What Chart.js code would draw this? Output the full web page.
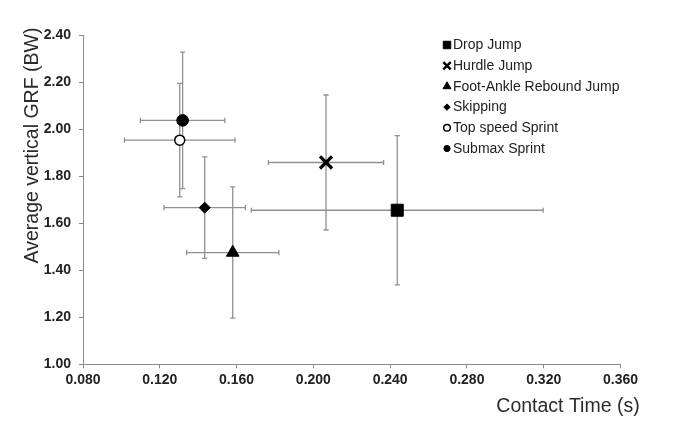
<!DOCTYPE html>
<html><head><meta charset="utf-8">
<script src="https://cdn.jsdelivr.net/npm/chart.js@4.4.1/dist/chart.umd.min.js"></script>
<style>html,body{margin:0;padding:0;background:#fff}canvas{display:block}</style>
</head><body>
<canvas id="c" width="680" height="441"></canvas>
<script>
// ---- data ----
const categories = ['Drop Jump', 'Hurdle Jump', 'Foot-Ankle Rebound Jump', 'Skipping', 'Top speed Sprint', 'Submax Sprint'];
const contactTime = [0.2437, 0.2066, 0.1580, 0.1434, 0.1304, 0.1319];
const contactTimeSD = [0.0760, 0.0300, 0.0240, 0.0212, 0.0288, 0.0220];
const grf = [1.655, 1.858, 1.475, 1.666, 1.953, 2.037];
const grfSD = [0.317, 0.287, 0.279, 0.216, 0.241, 0.290];
const xTicks = [0.080, 0.120, 0.160, 0.200, 0.240, 0.280, 0.320, 0.360];
const yTicks = [1.00, 1.20, 1.40, 1.60, 1.80, 2.00, 2.20, 2.40];
const xTitle = 'Contact Time (s)';
const yTitle = 'Average vertical GRF (BW)';

// ---- styles ----
const markerStyle = [
  {pointStyle: 'rect', r: 8.5, fill: '#000', stroke: '#000', w: 1, lr: 5.3, lw: 1},
  {pointStyle: 'crossRot', r: 8.5, fill: '#000', stroke: '#000', w: 3.2, lr: 5.2, lw: 2.5},
  {pointStyle: 'triangle', r: 7.3, fill: '#000', stroke: '#000', w: 1, lr: 4.6, lw: 1},
  {pointStyle: 'rectRot', r: 5.5, fill: '#000', stroke: '#000', w: 1, lr: 3.2, lw: 1},
  {pointStyle: 'circle', r: 5, fill: '#fff', stroke: '#000', w: 1.5, lr: 3.3, lw: 1.5},
  {pointStyle: 'circle', r: 5.8, fill: '#000', stroke: '#000', w: 1, lr: 3.1, lw: 1}
];
const axisColor = '#8a8a8a';
const errColor = '#909090';
const textColor = '#222';
const fontFam = '"Liberation Sans", Arial, sans-serif';

const datasets = categories.map((name, i) => ({
  label: name,
  data: [{x: contactTime[i], y: grf[i]}],
  pointStyle: markerStyle[i].pointStyle,
  pointRadius: markerStyle[i].r,
  pointBackgroundColor: markerStyle[i].fill,
  pointBorderColor: markerStyle[i].stroke,
  pointBorderWidth: markerStyle[i].w,
  showLine: false
}));

const errorBars = {
  id: 'errorBars',
  beforeDatasetsDraw(chart) {
    const {ctx, scales: {x, y}} = chart;
    const cap = 2.6;
    ctx.save();
    ctx.strokeStyle = errColor;
    ctx.lineWidth = 1.3;
    categories.forEach((_, i) => {
      const cx = x.getPixelForValue(contactTime[i]);
      const cy = y.getPixelForValue(grf[i]);
      const x0 = x.getPixelForValue(contactTime[i] - contactTimeSD[i]);
      const x1 = x.getPixelForValue(contactTime[i] + contactTimeSD[i]);
      const y0 = y.getPixelForValue(grf[i] - grfSD[i]);
      const y1 = y.getPixelForValue(grf[i] + grfSD[i]);
      ctx.beginPath();
      ctx.moveTo(x0, cy); ctx.lineTo(x1, cy);
      ctx.moveTo(x0, cy - cap); ctx.lineTo(x0, cy + cap);
      ctx.moveTo(x1, cy - cap); ctx.lineTo(x1, cy + cap);
      ctx.moveTo(cx, y0); ctx.lineTo(cx, y1);
      ctx.moveTo(cx - cap, y0); ctx.lineTo(cx + cap, y0);
      ctx.moveTo(cx - cap, y1); ctx.lineTo(cx + cap, y1);
      ctx.stroke();
    });
    ctx.restore();
  }
};

const customLegendAndTitles = {
  id: 'customLegendAndTitles',
  afterDraw(chart) {
    const {ctx} = chart;
    ctx.save();
    // legend
    ctx.font = '14px ' + fontFam;
    ctx.textBaseline = 'middle';
    ctx.textAlign = 'left';
    categories.forEach((name, i) => {
      const ly = 45 + i * 20.7;
      const m = markerStyle[i];
      ctx.fillStyle = m.fill;
      ctx.strokeStyle = m.stroke;
      ctx.lineWidth = m.lw;
      Chart.helpers.drawPoint(ctx, {pointStyle: m.pointStyle, radius: m.lr, rotation: 0, borderWidth: m.lw}, 447, ly);
      ctx.fillStyle = textColor;
      ctx.fillText(name, 453, ly + 0.5);
    });
    // axis titles
    ctx.fillStyle = '#2b2b2b';
    ctx.font = '19.5px ' + fontFam;
    ctx.textAlign = 'center';
    ctx.textBaseline = 'alphabetic';
    ctx.fillText(xTitle, 568, 411.5);
    ctx.translate(38.3, 145.5);
    ctx.rotate(-Math.PI / 2);
    ctx.fillText(yTitle, 0, 0);
    ctx.restore();
  }
};

new Chart(document.getElementById('c'), {
  type: 'scatter',
  data: {datasets},
  options: {
    responsive: false,
    animation: false,
    events: [],
    layout: {padding: {left: 10, right: 59.5, top: 35, bottom: 0}},
    plugins: {legend: {display: false}, tooltip: {enabled: false}},
    scales: {
      x: {
        type: 'linear',
        min: xTicks[0],
        max: xTicks[xTicks.length - 1],
        afterBuildTicks: s => { s.ticks = xTicks.map(v => ({value: v})); },
        afterFit: s => { s.height = 76.7; },
        grid: {display: true, drawOnChartArea: false, drawTicks: true, tickLength: 4, color: axisColor},
        border: {display: true, color: axisColor, width: 1},
        ticks: {
          color: textColor, padding: 3, maxRotation: 0, autoSkip: false,
          font: {family: fontFam, size: 14, weight: 'bold'},
          callback: v => Number(v).toFixed(3)
        }
      },
      y: {
        type: 'linear',
        min: yTicks[0],
        max: yTicks[yTicks.length - 1],
        afterBuildTicks: s => { s.ticks = yTicks.map(v => ({value: v})); },
        afterFit: s => { s.width = 73; },
        grid: {display: true, drawOnChartArea: false, drawTicks: true, tickLength: 4, color: axisColor},
        border: {display: true, color: axisColor, width: 1},
        ticks: {
          color: textColor, padding: 8, autoSkip: false,
          font: {family: fontFam, size: 14, weight: 'bold'},
          callback: v => Number(v).toFixed(2)
        }
      }
    }
  },
  plugins: [errorBars, customLegendAndTitles]
});
</script>
</body></html>
